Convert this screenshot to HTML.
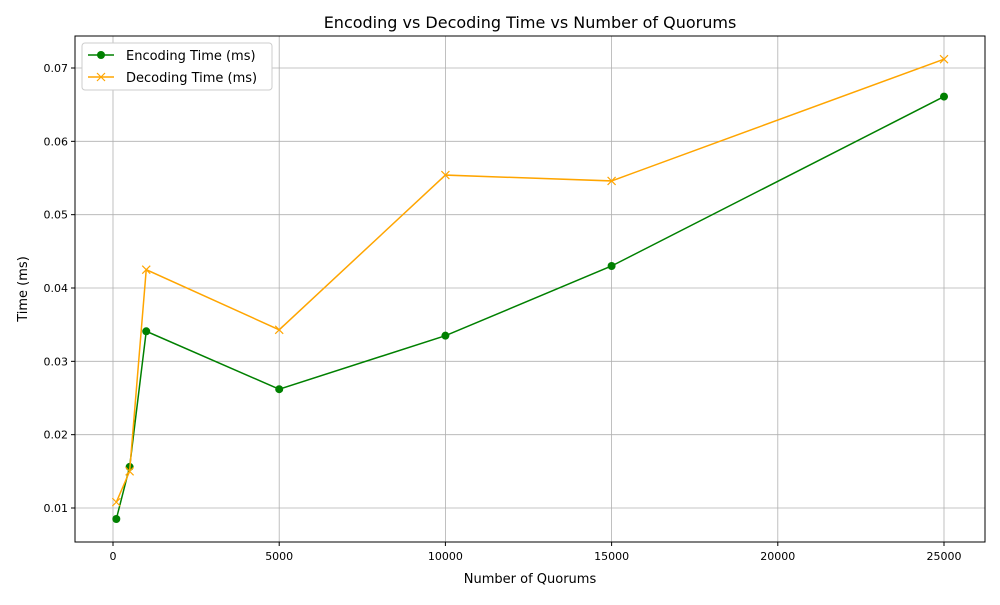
<!DOCTYPE html>
<html><head><meta charset="utf-8"><style>
body{margin:0;background:#fff;font-family:"Liberation Sans","DejaVu Sans",sans-serif;}
svg text{font-family:"DejaVu Sans","Liberation Sans",sans-serif;}
</style></head><body>
<svg id="chart" width="1000" height="600">
<rect width="1000" height="600" fill="#fff"/>
<g id="grid"></g><g id="axes"></g><g id="series"></g>
<text x="530" y="28" text-anchor="middle" font-size="16" fill="#000">Encoding vs Decoding Time vs Number of Quorums</text>
<text x="530" y="583" text-anchor="middle" font-size="13" fill="#000">Number of Quorums</text>
<text transform="translate(27,289) rotate(-90)" text-anchor="middle" font-size="13" fill="#000">Time (ms)</text>
<g>
<rect x="82" y="43" width="190" height="47" fill="#fff" stroke="#ccc" rx="3"/>
<g>
<line x1="88" y1="55" x2="114" y2="55" stroke="green" stroke-width="1.5"/><circle cx="101" cy="55" r="4" fill="green"/>
<text x="126" y="60" font-size="13">Encoding Time (ms)</text></g>
<g>
<line x1="88" y1="77" x2="114" y2="77" stroke="orange" stroke-width="1.5"/><path d="M97,73l8,8M105,73l-8,8" stroke="orange" stroke-width="1.2"/>
<text x="126" y="82" font-size="13">Decoding Time (ms)</text></g>
</g>
</svg>
<script>
const quorums=[100,500,1000,5000,10000,15000,25000];
const encoding=[0.0085,0.0156,0.0341,0.0262,0.0335,0.0430,0.0661];
const decoding=[0.0108,0.0150,0.0425,0.0343,0.0554,0.0546,0.0712];
const xTicks=[0,5000,10000,15000,20000,25000];
const yTicks=[0.01,0.02,0.03,0.04,0.05,0.06,0.07];
const NS="http://www.w3.org/2000/svg";
const L=75,R=985,T=36,B=542;
const xs=v=>113+v*(166.2/5000);
const ys=v=>508-(v-0.01)*7333.3;
function mk(t,a,p){const e=document.createElementNS(NS,t);for(const k in a)e.setAttribute(k,a[k]);p.appendChild(e);return e;}
const grid=document.getElementById('grid'),axes=document.getElementById('axes'),ser=document.getElementById('series');
xTicks.forEach(v=>{const x=xs(v);
 const g=mk('line',{x1:x,x2:x,y1:T,y2:B,stroke:'#b0b0b0','stroke-width':0.8},grid);
 
 
 mk('line',{x1:x,x2:x,y1:B,y2:B+4,stroke:'#000'},axes);
 const t=mk('text',{x:x,y:B+18,'text-anchor':'middle','font-size':11},axes);t.textContent=v;
 
 });
yTicks.forEach(v=>{const y=ys(v);
 const g=mk('line',{x1:L,x2:R,y1:y,y2:y,stroke:'#b0b0b0','stroke-width':0.8},grid);
 
 
 mk('line',{x1:L-4,x2:L,y1:y,y2:y,stroke:'#000'},axes);
 const t=mk('text',{x:L-7,y:y+4,'text-anchor':'end','font-size':11},axes);t.textContent=v.toFixed(2);
 
 });
const frame=mk('rect',{x:L,y:T,width:R-L,height:B-T,fill:'none',stroke:'#000','stroke-width':1},axes);


function draw(vals,color,marker,name){
 const pts=quorums.map((q,i)=>xs(q)+','+ys(vals[i])).join(' ');
 const pl=mk('polyline',{points:pts,fill:'none',stroke:color,'stroke-width':1.5},ser);
 
 
 quorums.forEach((q,i)=>{const x=xs(q),y=ys(vals[i]);let m;
  if(marker==='o')m=mk('circle',{cx:x,cy:y,r:4,fill:color},ser);
  else m=mk('path',{d:`M${x-4},${y-4}L${x+4},${y+4}M${x+4},${y-4}L${x-4},${y+4}`,stroke:color,'stroke-width':1.2},ser);
  
  });
}
draw(encoding,'green','o','encoding');
draw(decoding,'orange','x','decoding');
</script>
</body></html>
